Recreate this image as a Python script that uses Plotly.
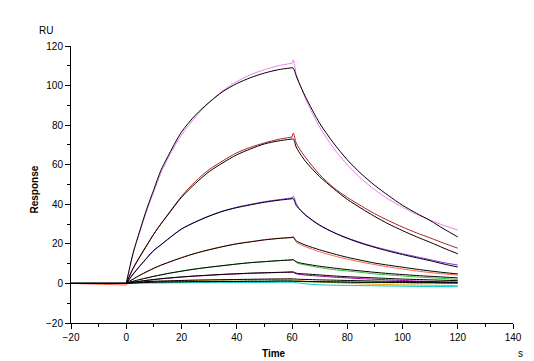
import plotly.graph_objects as go

# Shared time points (s)
T = [-20, 0, 1, 2.5, 5, 7.5, 10, 12.5, 15, 20, 25, 30, 35, 40, 45, 50, 55, 60,
     60.5, 61.5, 62.5, 65, 70, 75, 80, 85, 90, 95, 100, 105, 110, 115, 120]

# Measured responses (RU), one list per concentration
d_violet = [0, 0, 6, 15, 26.5, 37, 46.5, 55.5, 63, 75, 84, 91.5, 97.5, 102, 105.5, 108, 110, 111.3,
            113, 106, 102, 93, 79, 68.5, 60, 53, 47.3, 42.5, 38.5, 35, 32, 29.3, 27]
d_red = [0, 0, 3, 7.5, 13.5, 19.3, 25, 30, 34.8, 44, 51.5, 57.5, 62, 66, 68.8, 71, 72.8, 74,
         76, 71, 68.5, 63.5, 55, 48.5, 43.5, 39.2, 35.2, 31.7, 28.5, 25.6, 23, 20.3, 17.8]
d_blueviolet = [0, 0, 1.9, 4.6, 8.8, 12.8, 16.6, 19.4, 22.2, 27.5, 31.1, 34.1, 36.6, 38.5, 40, 41.3, 42.3, 43.2,
                44, 40.5, 38, 34.3, 29.3, 25.8, 23, 20.6, 18.5, 16.7, 15, 13.5, 12, 10.5, 9.3]
d_tomato = [0, -0.8, 0.9, 2.1, 4.1, 5.9, 7.6, 9.1, 10.5, 13, 15.2, 17.1, 18.7, 20.1, 21.1, 22.1, 22.8, 23.3,
            23.8, 21, 20, 18.5, 16, 14, 12.3, 10.8, 9.5, 8.3, 7.3, 6.3, 5.5, 4.8, 4.2]
d_green = [0, 0, 0.5, 1.1, 2, 2.8, 3.6, 4.3, 5, 6.2, 7.3, 8.2, 9, 9.8, 10.5, 11, 11.5, 11.9,
           12.1, 10.6, 10, 9.3, 8, 7, 6.3, 5.6, 4.8, 4.3, 3.8, 3.3, 2.9, 2.5, 2]
d_purple = [0, 0, 0.3, 0.6, 1.1, 1.5, 1.9, 2.3, 2.6, 3.2, 3.7, 4.1, 4.5, 4.8, 5.1, 5.3, 5.5, 5.7,
            5.5, 4.9, 4.6, 4.2, 3.7, 3.2, 2.8, 2.4, 2.1, 1.8, 1.5, 1.2, 1.0, 0.7, 0.5]
d_orange = [0, 0, 0.2, 0.4, 0.7, 0.9, 1.0, 1.1, 1.2, 1.4, 1.5, 1.6, 1.7, 1.8, 1.9, 2.0, 2.1, 2.2,
            1.9, 1.6, 1.4, 1.1, 0.7, 0.4, 0.1, -0.2, -0.4, -0.6, -0.7, -0.8, -0.9, -1.0, -1.1]
d_darkgreen = [0, 0, 0.1, 0.2, 0.4, 0.5, 0.6, 0.7, 0.7, 0.8, 0.9, 0.9, 1.0, 1.0, 1.1, 1.1, 1.2, 1.2,
               1.1, 1.0, 1.0, 0.9, 0.8, 0.7, 0.6, 0.5, 0.5, 0.4, 0.4, 0.3, 0.3, 0.2, 0.2]
d_cyan = [0, 0, 0.0, 0.1, 0.1, 0.2, 0.2, 0.2, 0.3, 0.3, 0.4, 0.4, 0.4, 0.5, 0.5, 0.5, 0.6, 0.6,
          0.5, 0.3, 0.2, -0.2, -0.7, -0.9, -1.0, -1.1, -1.2, -1.3, -1.4, -1.5, -1.6, -1.6, -1.7]

# Fitted curves (RU)
f1 = [0, 0, 6.5, 15.5, 27, 38, 47.5, 57, 64, 76.5, 85, 91.5, 97, 101, 104, 106.3, 108, 109,
      108.8, 105, 101.5, 94, 81, 71, 62.5, 55.5, 49.5, 44.3, 39.5, 35.5, 31.8, 27.5, 23.5]
f2 = [0, 0, 3.3, 7.8, 13.8, 19.5, 25, 30, 34.5, 43.5, 50.5, 56.5, 61, 65, 68, 70.5, 72, 73,
      73, 69, 66.5, 61.5, 54, 48, 42.5, 38, 33.8, 30, 26.7, 23.6, 20.8, 17.8, 15]
f3 = [0, 0, 2, 4.8, 9, 13, 16.8, 19.5, 22.3, 27.5, 31, 34, 36.5, 38.3, 39.7, 41, 42, 42.8,
      42.8, 39.5, 37.8, 34.5, 29.5, 25.8, 22.8, 20.3, 18.2, 16.3, 14.6, 13, 11.5, 9.8, 8.3]
f4 = [0, 0, 1, 2.2, 4.2, 6, 7.7, 9.2, 10.5, 13, 15.2, 17, 18.6, 20, 21, 22, 22.7, 23.2,
      23.2, 21.5, 20.8, 19.3, 17, 15, 13.2, 11.7, 10.3, 9.2, 8.2, 7.2, 6.3, 5.5, 4.8]
f5 = [0, 0, 0.5, 1.1, 2, 2.8, 3.6, 4.3, 5, 6.2, 7.3, 8.2, 9, 9.8, 10.5, 11, 11.5, 11.9,
      11.9, 11, 10.5, 9.8, 8.7, 7.8, 7, 6.3, 5.6, 5, 4.5, 4, 3.6, 3.2, 2.8]
f6 = [0, 0, 0.3, 0.6, 1.1, 1.6, 2, 2.4, 2.7, 3.3, 3.8, 4.2, 4.6, 4.9, 5.2, 5.4, 5.6, 5.8,
      5.8, 5.2, 5.0, 4.8, 4.3, 3.8, 3.4, 3.1, 2.8, 2.5, 2.2, 2.0, 1.8, 1.6, 1.4]
f7 = [0, 0, 0.2, 0.4, 0.7, 0.9, 1.1, 1.2, 1.3, 1.5, 1.7, 1.8, 1.9, 2.0, 2.1, 2.2, 2.25, 2.3,
      2.3, 2.2, 2.1, 2.0, 1.8, 1.65, 1.5, 1.35, 1.2, 1.1, 1.0, 0.9, 0.8, 0.7, 0.6]
f8 = [0, 0, 0.1, 0.2, 0.4, 0.5, 0.6, 0.7, 0.7, 0.8, 0.9, 0.9, 1.0, 1.0, 1.1, 1.1, 1.2, 1.2,
      1.2, 1.1, 1.1, 1.0, 0.9, 0.8, 0.7, 0.6, 0.6, 0.5, 0.5, 0.4, 0.4, 0.3, 0.3]

data_series = [
    (d_violet, "#EE82EE"), (d_red, "#B22222"), (d_blueviolet, "#8A2BE2"),
    (d_tomato, "#FF6347"), (d_green, "#33C033"), (d_purple, "#990099"),
    (d_orange, "#EBA000"), (d_darkgreen, "#006400"), (d_cyan, "#00C8D0"),
]
fit_series = [f1, f2, f3, f4, f5, f6, f7, f8]

X_TICKS = [-20, 0, 20, 40, 60, 80, 100, 120, 140]
Y_TICKS = [-20, 0, 20, 40, 60, 80, 100, 120]

# phase boundaries (indices into T): baseline, association, dissociation
i0 = T.index(0)
i60 = T.index(60)
segments = [(0, i0 + 1), (i0, i60 + 1), (i60, len(T))]


def add_curve(fig, vals, col):
    for a, b in segments:
        fig.add_trace(go.Scatter(x=T[a:b], y=vals[a:b], mode="lines",
                                 line=dict(color=col, width=1, shape="spline", smoothing=0.8),
                                 hoverinfo="skip"))


fig = go.Figure()
for vals, col in data_series:
    add_curve(fig, vals, col)
for vals in fit_series:
    add_curve(fig, vals, "black")

font = dict(family="Liberation Sans, Arial, sans-serif", size=10, color="black")
axis_common = dict(showgrid=False, zeroline=False, showline=True, linecolor="black",
                   linewidth=1, ticks="outside", ticklen=5, tickcolor="black",
                   tickwidth=1, tickfont=font,
                   minor=dict(ticks="outside", ticklen=3, tickcolor="black", tickwidth=1))

# page body has an 8px margin, so the figure is sized to fit inside the window
fig.update_layout(
    width=526, height=353,
    margin=dict(l=63, r=15, t=38, b=38),
    paper_bgcolor="white", plot_bgcolor="white",
    showlegend=False,
    font=font,
    xaxis=dict(range=[-20, 140], tickvals=X_TICKS, **axis_common),
    yaxis=dict(range=[-20, 120], tickvals=Y_TICKS, **axis_common),
    annotations=[
        dict(text="<b>Time</b>", x=206 / 448, y=-30 / 277, xref="paper", yref="paper",
             xanchor="center", yanchor="middle", showarrow=False, font=font),
        dict(text="<b>Response</b>", x=-38 / 448, y=133 / 277, xref="paper", yref="paper",
             xanchor="center", yanchor="middle", textangle=-90, showarrow=False, font=font),
        dict(text="RU", x=-25 / 448, y=293 / 277, xref="paper", yref="paper",
             xanchor="center", yanchor="middle", showarrow=False, font=font),
        dict(text="s", x=456 / 448, y=-30 / 277, xref="paper", yref="paper",
             xanchor="center", yanchor="middle", showarrow=False, font=font),
    ],
)

fig.write_html("out.html")
